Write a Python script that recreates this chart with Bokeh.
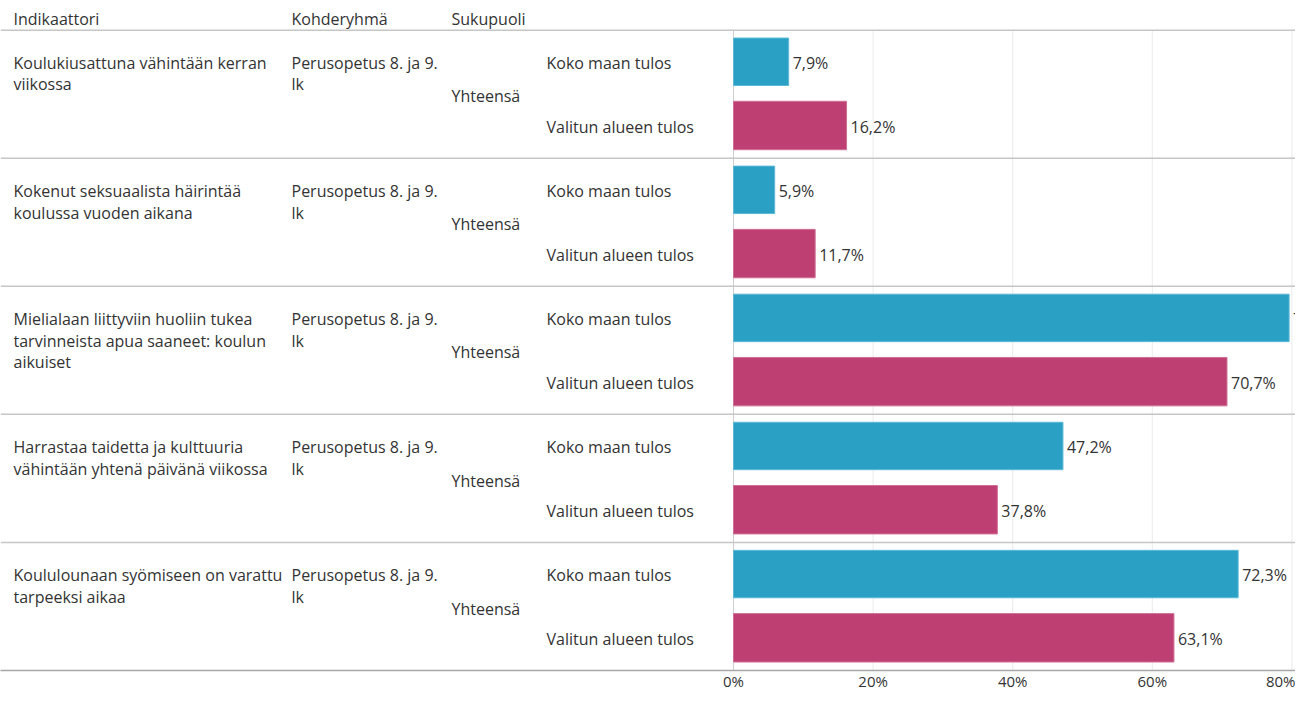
from bokeh.plotting import figure
from bokeh.models import Range1d, FixedTicker, PrintfTickFormatter, Span
from bokeh.core.properties import value
from bokeh.embed import file_html
from bokeh.resources import INLINE

# ---- data ----
indicators = [
    ["Koulukiusattuna vähintään kerran", "viikossa"],
    ["Kokenut seksuaalista häirintää", "koulussa vuoden aikana"],
    ["Mielialaan liittyviin huoliin tukea", "tarvinneista apua saaneet: koulun", "aikuiset"],
    ["Harrastaa taidetta ja kulttuuria", "vähintään yhtenä päivänä viikossa"],
    ["Koululounaan syömiseen on varattu", "tarpeeksi aikaa"],
]
target_group = ["Perusopetus 8. ja 9.", "lk"]
gender = "Yhteensä"
measures = ["Koko maan tulos", "Valitun alueen tulos"]
national = [7.9, 5.9, 79.6, 47.2, 72.3]
region = [16.2, 11.7, 70.7, 37.8, 63.1]
headers = ["Indikaattori", "Kohderyhmä", "Sukupuoli"]
ticks = [0, 20, 40, 60, 80]

# ---- layout (pixels) ----
FONT = "Open Sans"
FS = "16px"
TXT = "#333333"
BLUE = "#2aa0c4"
PINK = "#be4073"
W, H = 1295, 693
PX = 6.98             # pixels per percent
ZERO = 733            # x pixel of 0%
ROW0 = 30
ROWH = 129.6
n = len(national)

def xd(px):
    return (px - ZERO) / PX

p = figure(width=W, height=H, output_backend="svg", toolbar_location=None,
           x_range=Range1d(xd(0), xd(W)), y_range=Range1d(678, 0),
           min_border=0, min_border_left=0, min_border_right=0, min_border_top=0,
           min_border_bottom=0, y_axis_location=None, x_axis_location="below")
p.outline_line_color = None
p.background_fill_color = "white"
p.border_fill_color = "white"
p.xgrid.visible = False
p.ygrid.visible = False

ax = p.xaxis[0]
ax.ticker = FixedTicker(ticks=ticks)
ax.formatter = PrintfTickFormatter(format="%d%%")
ax.axis_line_color = "#a6a6a6"
ax.axis_line_width = 1.5
ax.major_tick_line_color = None
ax.minor_tick_line_color = None
ax.major_tick_out = 0
ax.major_tick_in = 0
ax.major_label_standoff = 0
ax.major_label_text_font = FONT
ax.major_label_text_font_size = "15px"
ax.major_label_text_color = TXT

# vertical grid lines (below header)
p.segment(x0=ticks[1:], x1=ticks[1:], y0=ROW0, y1=678, line_color="#ebebeb", line_width=1)
p.segment(x0=[0], x1=[0], y0=ROW0, y1=678, line_color="#cfcfcf", line_width=1)

# row separators
for k in range(n):
    p.add_layout(Span(location=ROW0 + k * ROWH, dimension="width", line_color="#c6c6c6", line_width=1.5))

row_tops = [ROW0 + i * ROWH for i in range(n)]

# bars
p.hbar(y=[t + 32 for t in row_tops], left=0, right=national, height=48,
       fill_color=BLUE, line_color="#5cb8d6", line_width=1)
p.hbar(y=[t + 96.5 for t in row_tops], left=0, right=region, height=49,
       fill_color=PINK, line_color="#cf6f95", line_width=1)

def fmt(v):
    return f"{v:.1f}%".replace(".", ",")

common = dict(text_font=value(FONT), text_font_size=FS, text_color=TXT, text_baseline="middle")

# value labels
p.text(x=national, y=[t + 33 for t in row_tops], text=[fmt(v) for v in national], x_offset=4, **common)
p.text(x=region, y=[t + 98 for t in row_tops], text=[fmt(v) for v in region], x_offset=4, **common)

# headers
p.text(x=[xd(13), xd(291), xd(451)], y=[19, 19, 19], text=headers, **common)

# indicator texts
ix, iy, it = [], [], []
for i, lines in enumerate(indicators):
    for j, ln in enumerate(lines):
        ix.append(xd(13)); iy.append(row_tops[i] + 33 + 22 * j); it.append(ln)
p.text(x=ix, y=iy, text=it, **common)

# target group
tx, ty, tt = [], [], []
for i in range(n):
    for j, ln in enumerate(target_group):
        tx.append(xd(291)); ty.append(row_tops[i] + 33 + 22 * j); tt.append(ln)
p.text(x=tx, y=ty, text=tt, **common)

# gender
p.text(x=[xd(451)] * n, y=[t + 67 for t in row_tops], text=[gender] * n, **common)

# measure labels
mx, my, mt = [], [], []
for i in range(n):
    mx += [xd(546), xd(546)]
    my += [row_tops[i] + 33, row_tops[i] + 98]
    mt += measures
p.text(x=mx, y=my, text=mt, **common)

open("out.html", "w").write(file_html(p, INLINE))
